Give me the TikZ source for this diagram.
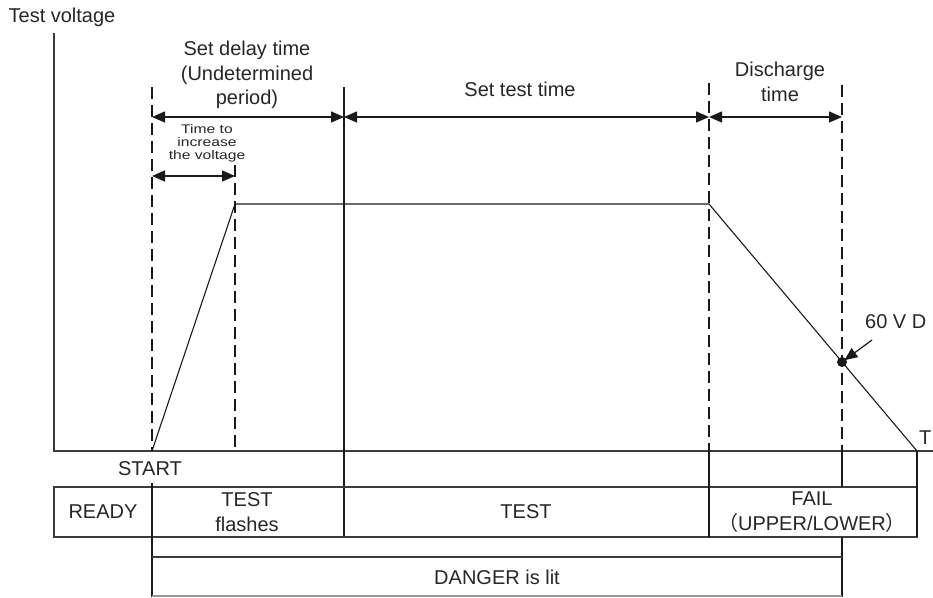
\documentclass[tikz,border=0pt]{standalone}
\usepackage{fontspec}
\setmainfont{Liberation Sans}
\newfontfamily\cjk{Noto Sans CJK SC}
\usetikzlibrary{arrows.meta}
\definecolor{txt}{HTML}{262626}
\definecolor{ln}{HTML}{1A1A1A}
\tikzset{
  lbl/.style={text=txt, inner sep=0pt, align=center, font=\fontsize{20}{24.5}\selectfont},
  smalllbl/.style={text=txt, inner sep=0pt, align=center, font=\fontsize{12.5}{13}\selectfont},
  solidln/.style={draw=ln, line width=1.2pt},
  axisln/.style={draw=ln!85, line width=1.6pt},
  dashln/.style={draw=ln, line width=1.2pt, dash pattern=on 12pt off 6pt},
  dimarrow/.style={draw=ln, line width=1.4pt, {Triangle[length=13pt,width=11pt]}-{Triangle[length=13pt,width=11pt]}},
}
\newcommand{\wid}[1]{\scalebox{1.25}[1]{#1}}
\begin{document}
\begin{tikzpicture}[x=1pt,y=-1pt]
\useasboundingbox (0,0) rectangle (933,597);
% key coordinates
\coordinate (ytop) at (54,33);
\coordinate (orig) at (54,451);
\coordinate (xend) at (933,451);
\coordinate (start) at (152,451);
\coordinate (rampTop) at (235,204);
\coordinate (flatEnd) at (709,204);
\coordinate (zero) at (917,451);
\coordinate (dot) at (842,362);
% axes
\draw[axisln] (ytop) -- (orig) -- (xend);
% voltage curve
\draw[solidln, line width=1.1pt] (start) -- (rampTop) -- (flatEnd) -- (zero);
% dashed guide lines
\coordinate (d1t) at (152,87);
\coordinate (d2t) at (235,165);
\coordinate (d2b) at (235,451);
\coordinate (d3t) at (709,83);
\coordinate (d3b) at (709,451);
\coordinate (d4t) at (842,85);
\coordinate (d4b) at (842,451);
\draw[dashln] (d1t) -- (start);
\draw[dashln] (d2t) -- (d2b);
\draw[dashln] (d3t) -- (d3b);
\draw[dashln] (d4t) -- (d4b);
% solid vertical at end of delay
\coordinate (v344t) at (344,87);
\coordinate (v344b) at (344,537);
\draw[solidln] (v344t) -- (v344b);
% table row
\coordinate (rowTL) at (54,487);
\coordinate (rowBR) at (917,537);
\draw[axisln, line width=1.4pt] (rowTL) rectangle (rowBR);
\coordinate (s1t) at (152,483);
\coordinate (s1b) at (152,597);
\draw[solidln] (s1t) -- (s1b);
\coordinate (s3b) at (709,537);
\draw[solidln] (d3b) -- (s3b);
\coordinate (s4m) at (842,487);
\draw[solidln] (d4b) -- (s4m);
\coordinate (s4l) at (842,537);
\coordinate (s4e) at (842,597);
\draw[solidln] (s4l) -- (s4e);
\coordinate (zb) at (917,537);
\draw[solidln] (zero) -- (zb);
% danger box
\coordinate (dgTL) at (152,557);
\coordinate (dgTR) at (842,557);
\coordinate (dgBL) at (152,596);
\coordinate (dgBR) at (842,596);
\draw[axisln, line width=1.4pt] (dgTL) -- (dgTR);
\draw[draw=ln!45, line width=1.4pt] (dgBL) -- (dgBR);
% dimension arrows
\coordinate (a1l) at (152,117);
\coordinate (a1r) at (344,117);
\coordinate (a3r) at (709,117);
\coordinate (a4r) at (842,117);
\coordinate (b1l) at (152,176);
\coordinate (b1r) at (235,176);
\draw[dimarrow] (a1l) -- (a1r);
\draw[dimarrow] (a1r) -- (a3r);
\draw[dimarrow] (a3r) -- (a4r);
\draw[dimarrow] (b1l) -- (b1r);
% labels
\node[lbl] (ylabel) at (62,17) {Test voltage};
\node[lbl] (delay) at (247,75) {Set delay time\\(Undetermined\\period)};
\node[lbl] (testt) at (520,89) {Set test time};
\node[lbl] (disch) at (780,82) {Discharge\\time};
\node[smalllbl] (incr) at (207,143) {\wid{Time to}\\\wid{increase}\\\wid{the voltage}};
\node[lbl] (startl) at (150,469) {START};
\node[lbl] (ready) at (103,512) {READY};
\node[lbl] (flash) at (247,512) {TEST\\flashes};
\node[lbl] (test) at (526,512) {TEST};
\node[lbl] (fail) at (812,512) {FAIL\\{\cjk （}UPPER/LOWER{\cjk ）}};
\node[lbl] (danger) at (497,577) {DANGER is lit};
\node[lbl, anchor=west] (sixty) at (865,322) {60 V D};
\node[lbl, anchor=west] (tlabel) at (919,438) {T};
% dot and pointer
\fill[ln] (dot) circle (5pt);
\coordinate (ptrFrom) at (872,340);
\draw[draw=ln, line width=1.2pt, shorten >=3pt, -{Triangle[length=13pt,width=11pt]}] (ptrFrom) -- (dot);
\end{tikzpicture}
\end{document}
